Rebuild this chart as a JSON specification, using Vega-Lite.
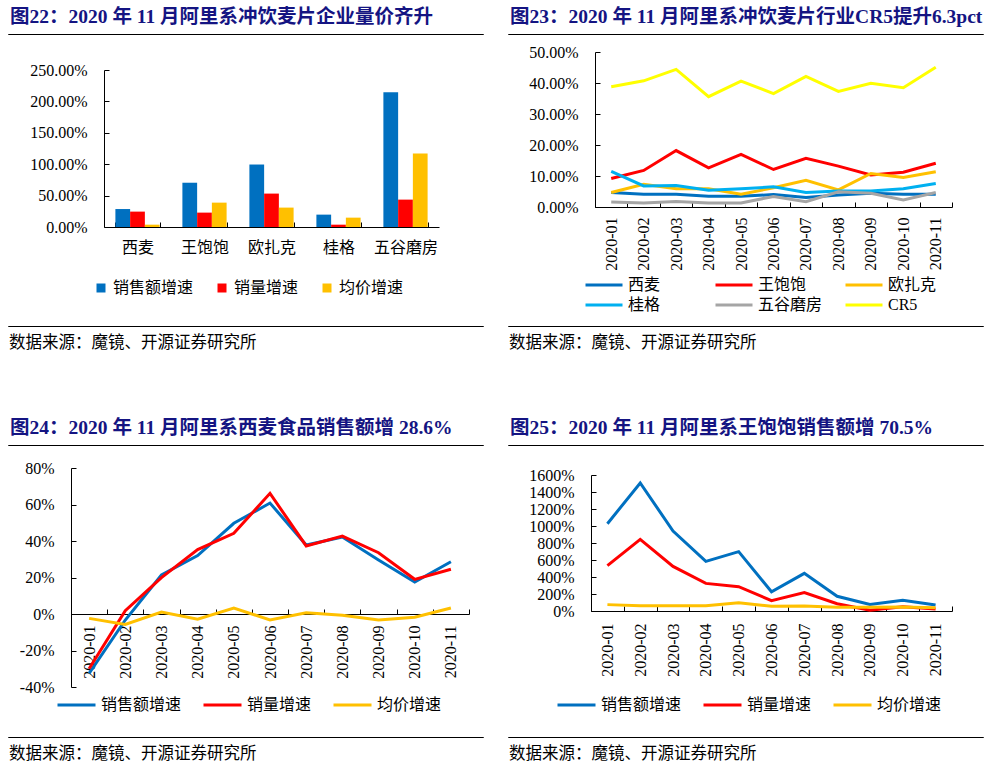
{
  "$schema": "https://vega.github.io/schema/vega-lite/v6.json",
  "description": "阿里系冲饮麦片 2020 年 11 月数据四图",
  "background": "white",
  "padding": {"left": 0, "top": 6, "right": 0, "bottom": 0},
  "config": {
    "font": "'Liberation Serif', 'Noto Sans CJK SC'",
    "view": {"stroke": null},
    "locale": {"number": {"decimal": ".", "thousands": ",", "grouping": [3], "currency": ["", ""], "minus": "-"}},
    "axis": {
      "grid": false,
      "domainColor": "#000000",
      "tickColor": "#000000",
      "tickSize": -5,
      "labelColor": "#000000",
      "labelFont": "'Liberation Serif', 'Noto Sans CJK SC'",
      "labelFontSize": 16
    },
    "legend": {
      "labelFont": "'Liberation Serif', 'Noto Sans CJK SC'",
      "labelFontSize": 16,
      "labelColor": "#000000",
      "labelOffset": 4,
      "padding": 0
    },
    "title": {
      "font": "'Liberation Serif', 'Noto Sans CJK SC'",
      "anchor": "start",
      "baseline": "alphabetic"
    }
  },
  "datasets": {
    "bars": [
      {"brand": "西麦", "metric": "销售额增速", "value": 0.286},
      {"brand": "西麦", "metric": "销量增速", "value": 0.245},
      {"brand": "西麦", "metric": "均价增速", "value": 0.037},
      {"brand": "王饱饱", "metric": "销售额增速", "value": 0.705},
      {"brand": "王饱饱", "metric": "销量增速", "value": 0.229},
      {"brand": "王饱饱", "metric": "均价增速", "value": 0.388},
      {"brand": "欧扎克", "metric": "销售额增速", "value": 0.995},
      {"brand": "欧扎克", "metric": "销量增速", "value": 0.532},
      {"brand": "欧扎克", "metric": "均价增速", "value": 0.309},
      {"brand": "桂格", "metric": "销售额增速", "value": 0.197},
      {"brand": "桂格", "metric": "销量增速", "value": 0.037},
      {"brand": "桂格", "metric": "均价增速", "value": 0.149},
      {"brand": "五谷磨房", "metric": "销售额增速", "value": 2.144},
      {"brand": "五谷磨房", "metric": "销量增速", "value": 0.436},
      {"brand": "五谷磨房", "metric": "均价增速", "value": 1.17}
    ],
    "share": [
      {"month": "2020-01", "brand": "西麦", "share": 0.047},
      {"month": "2020-02", "brand": "西麦", "share": 0.041},
      {"month": "2020-03", "brand": "西麦", "share": 0.041},
      {"month": "2020-04", "brand": "西麦", "share": 0.035},
      {"month": "2020-05", "brand": "西麦", "share": 0.035},
      {"month": "2020-06", "brand": "西麦", "share": 0.040},
      {"month": "2020-07", "brand": "西麦", "share": 0.031},
      {"month": "2020-08", "brand": "西麦", "share": 0.039},
      {"month": "2020-09", "brand": "西麦", "share": 0.044},
      {"month": "2020-10", "brand": "西麦", "share": 0.041},
      {"month": "2020-11", "brand": "西麦", "share": 0.041},
      {"month": "2020-01", "brand": "王饱饱", "share": 0.092},
      {"month": "2020-02", "brand": "王饱饱", "share": 0.118},
      {"month": "2020-03", "brand": "王饱饱", "share": 0.182},
      {"month": "2020-04", "brand": "王饱饱", "share": 0.126},
      {"month": "2020-05", "brand": "王饱饱", "share": 0.170},
      {"month": "2020-06", "brand": "王饱饱", "share": 0.121},
      {"month": "2020-07", "brand": "王饱饱", "share": 0.157},
      {"month": "2020-08", "brand": "王饱饱", "share": 0.132},
      {"month": "2020-09", "brand": "王饱饱", "share": 0.103},
      {"month": "2020-10", "brand": "王饱饱", "share": 0.112},
      {"month": "2020-11", "brand": "王饱饱", "share": 0.141},
      {"month": "2020-01", "brand": "欧扎克", "share": 0.047},
      {"month": "2020-02", "brand": "欧扎克", "share": 0.073},
      {"month": "2020-03", "brand": "欧扎克", "share": 0.059},
      {"month": "2020-04", "brand": "欧扎克", "share": 0.059},
      {"month": "2020-05", "brand": "欧扎克", "share": 0.041},
      {"month": "2020-06", "brand": "欧扎克", "share": 0.062},
      {"month": "2020-07", "brand": "欧扎克", "share": 0.086},
      {"month": "2020-08", "brand": "欧扎克", "share": 0.055},
      {"month": "2020-09", "brand": "欧扎克", "share": 0.108},
      {"month": "2020-10", "brand": "欧扎克", "share": 0.095},
      {"month": "2020-11", "brand": "欧扎克", "share": 0.114},
      {"month": "2020-01", "brand": "桂格", "share": 0.115},
      {"month": "2020-02", "brand": "桂格", "share": 0.068},
      {"month": "2020-03", "brand": "桂格", "share": 0.069},
      {"month": "2020-04", "brand": "桂格", "share": 0.054},
      {"month": "2020-05", "brand": "桂格", "share": 0.059},
      {"month": "2020-06", "brand": "桂格", "share": 0.065},
      {"month": "2020-07", "brand": "桂格", "share": 0.047},
      {"month": "2020-08", "brand": "桂格", "share": 0.052},
      {"month": "2020-09", "brand": "桂格", "share": 0.052},
      {"month": "2020-10", "brand": "桂格", "share": 0.059},
      {"month": "2020-11", "brand": "桂格", "share": 0.076},
      {"month": "2020-01", "brand": "五谷磨房", "share": 0.016},
      {"month": "2020-02", "brand": "五谷磨房", "share": 0.013},
      {"month": "2020-03", "brand": "五谷磨房", "share": 0.018},
      {"month": "2020-04", "brand": "五谷磨房", "share": 0.013},
      {"month": "2020-05", "brand": "五谷磨房", "share": 0.013},
      {"month": "2020-06", "brand": "五谷磨房", "share": 0.034},
      {"month": "2020-07", "brand": "五谷磨房", "share": 0.017},
      {"month": "2020-08", "brand": "五谷磨房", "share": 0.049},
      {"month": "2020-09", "brand": "五谷磨房", "share": 0.044},
      {"month": "2020-10", "brand": "五谷磨房", "share": 0.023},
      {"month": "2020-11", "brand": "五谷磨房", "share": 0.047},
      {"month": "2020-01", "brand": "CR5", "share": 0.388},
      {"month": "2020-02", "brand": "CR5", "share": 0.407},
      {"month": "2020-03", "brand": "CR5", "share": 0.444},
      {"month": "2020-04", "brand": "CR5", "share": 0.356},
      {"month": "2020-05", "brand": "CR5", "share": 0.406},
      {"month": "2020-06", "brand": "CR5", "share": 0.366},
      {"month": "2020-07", "brand": "CR5", "share": 0.421},
      {"month": "2020-08", "brand": "CR5", "share": 0.373},
      {"month": "2020-09", "brand": "CR5", "share": 0.399},
      {"month": "2020-10", "brand": "CR5", "share": 0.385},
      {"month": "2020-11", "brand": "CR5", "share": 0.451}
    ],
    "ximai": [
      {"month": "2020-01", "metric": "销售额增速", "value": -0.325},
      {"month": "2020-02", "metric": "销售额增速", "value": -0.033},
      {"month": "2020-03", "metric": "销售额增速", "value": 0.214},
      {"month": "2020-04", "metric": "销售额增速", "value": 0.32},
      {"month": "2020-05", "metric": "销售额增速", "value": 0.497},
      {"month": "2020-06", "metric": "销售额增速", "value": 0.608},
      {"month": "2020-07", "metric": "销售额增速", "value": 0.378},
      {"month": "2020-08", "metric": "销售额增速", "value": 0.422},
      {"month": "2020-09", "metric": "销售额增速", "value": 0.296},
      {"month": "2020-10", "metric": "销售额增速", "value": 0.175},
      {"month": "2020-11", "metric": "销售额增速", "value": 0.286},
      {"month": "2020-01", "metric": "销量增速", "value": -0.30},
      {"month": "2020-02", "metric": "销量增速", "value": 0.018},
      {"month": "2020-03", "metric": "销量增速", "value": 0.199},
      {"month": "2020-04", "metric": "销量增速", "value": 0.353},
      {"month": "2020-05", "metric": "销量增速", "value": 0.442},
      {"month": "2020-06", "metric": "销量增速", "value": 0.661},
      {"month": "2020-07", "metric": "销量增速", "value": 0.373},
      {"month": "2020-08", "metric": "销量增速", "value": 0.427},
      {"month": "2020-09", "metric": "销量增速", "value": 0.336},
      {"month": "2020-10", "metric": "销量增速", "value": 0.19},
      {"month": "2020-11", "metric": "销量增速", "value": 0.245},
      {"month": "2020-01", "metric": "均价增速", "value": -0.024},
      {"month": "2020-02", "metric": "均价增速", "value": -0.057},
      {"month": "2020-03", "metric": "均价增速", "value": 0.011},
      {"month": "2020-04", "metric": "均价增速", "value": -0.029},
      {"month": "2020-05", "metric": "均价增速", "value": 0.033},
      {"month": "2020-06", "metric": "均价增速", "value": -0.033},
      {"month": "2020-07", "metric": "均价增速", "value": 0.007},
      {"month": "2020-08", "metric": "均价增速", "value": -0.007},
      {"month": "2020-09", "metric": "均价增速", "value": -0.033},
      {"month": "2020-10", "metric": "均价增速", "value": -0.018},
      {"month": "2020-11", "metric": "均价增速", "value": 0.033}
    ],
    "wangbaobao": [
      {"month": "2020-01", "metric": "销售额增速", "value": 10.27},
      {"month": "2020-02", "metric": "销售额增速", "value": 15.06},
      {"month": "2020-03", "metric": "销售额增速", "value": 9.41},
      {"month": "2020-04", "metric": "销售额增速", "value": 5.84},
      {"month": "2020-05", "metric": "销售额增速", "value": 6.98},
      {"month": "2020-06", "metric": "销售额增速", "value": 2.27},
      {"month": "2020-07", "metric": "销售额增速", "value": 4.43},
      {"month": "2020-08", "metric": "销售额增速", "value": 1.73},
      {"month": "2020-09", "metric": "销售额增速", "value": 0.78},
      {"month": "2020-10", "metric": "销售额增速", "value": 1.25},
      {"month": "2020-11", "metric": "销售额增速", "value": 0.705},
      {"month": "2020-01", "metric": "销量增速", "value": 5.33},
      {"month": "2020-02", "metric": "销量增速", "value": 8.43},
      {"month": "2020-03", "metric": "销量增速", "value": 5.25},
      {"month": "2020-04", "metric": "销量增速", "value": 3.25},
      {"month": "2020-05", "metric": "销量增速", "value": 2.86},
      {"month": "2020-06", "metric": "销量增速", "value": 1.22},
      {"month": "2020-07", "metric": "销量增速", "value": 2.16},
      {"month": "2020-08", "metric": "销量增速", "value": 0.86},
      {"month": "2020-09", "metric": "销量增速", "value": 0.08},
      {"month": "2020-10", "metric": "销量增速", "value": 0.51},
      {"month": "2020-11", "metric": "销量增速", "value": 0.229},
      {"month": "2020-01", "metric": "均价增速", "value": 0.75},
      {"month": "2020-02", "metric": "均价增速", "value": 0.63},
      {"month": "2020-03", "metric": "均价增速", "value": 0.63},
      {"month": "2020-04", "metric": "均价增速", "value": 0.63},
      {"month": "2020-05", "metric": "均价增速", "value": 0.98},
      {"month": "2020-06", "metric": "均价增速", "value": 0.55},
      {"month": "2020-07", "metric": "均价增速", "value": 0.59},
      {"month": "2020-08", "metric": "均价增速", "value": 0.43},
      {"month": "2020-09", "metric": "均价增速", "value": 0.43},
      {"month": "2020-10", "metric": "均价增速", "value": 0.47},
      {"month": "2020-11", "metric": "均价增速", "value": 0.388}
    ]
  },
  "spacing": 64,
  "resolve": {"scale": {"color": "independent"}, "legend": {"color": "independent"}},
  "vconcat": [
    {
      "spacing": 12,
      "resolve": {"scale": {"color": "independent"}, "legend": {"color": "independent"}},
      "vconcat": [
        {
          "spacing": 16,
          "resolve": {"scale": {"color": "independent"}, "legend": {"color": "independent"}},
          "hconcat": [
            {
              "spacing": 27,
              "vconcat": [
                {
                  "width": 475,
                  "height": 0.01,
                  "view": {"stroke": "#000000", "strokeWidth": 1},
                  "title": {"text": "图22：2020 年 11 月阿里系冲饮麦片企业量价齐升", "fontSize": 19.5, "fontWeight": "bold", "color": "#141482", "offset": 7, "dx": 2},
                  "data": {"values": []},
                  "mark": "text",
                  "encoding": {}
                },
                {
                  "width": 475,
                  "height": 157,
                  "data": {"name": "bars"},
                  "mark": {"type": "bar"},
                  "encoding": {
                    "x": {
                      "field": "brand",
                      "type": "nominal",
                      "sort": ["西麦", "王饱饱", "欧扎克", "桂格", "五谷磨房"],
                      "scale": {"range": [96, 431], "paddingInner": 0.34, "paddingOuter": 0.17},
                      "axis": {"title": null, "labelAngle": 0, "tickBand": "extent", "labelPadding": 17}
                    },
                    "xOffset": {
                      "field": "metric",
                      "type": "nominal",
                      "sort": ["销售额增速", "销量增速", "均价增速"],
                      "scale": {"paddingInner": 0, "paddingOuter": 0}
                    },
                    "y": {
                      "field": "value",
                      "type": "quantitative",
                      "scale": {"domain": [0, 2.5]},
                      "axis": {"title": null, "values": [0, 0.5, 1, 1.5, 2, 2.5], "format": ".2%", "offset": -96, "labelPadding": 22}
                    },
                    "color": {
                      "field": "metric",
                      "type": "nominal",
                      "scale": {"domain": ["销售额增速", "销量增速", "均价增速"], "range": ["#0070C0", "#FF0000", "#FFC000"]},
                      "legend": {"title": null, "orient": "none", "direction": "horizontal", "columns": 3, "legendX": 85, "legendY": 246, "symbolType": "square", "symbolSize": 81, "symbolStrokeWidth": 0, "columnPadding": 20}
                    }
                  }
                }
              ]
            },
            {
              "spacing": 9,
              "vconcat": [
                {
                  "width": 475,
                  "height": 0.01,
                  "view": {"stroke": "#000000", "strokeWidth": 1},
                  "title": {"text": "图23：2020 年 11 月阿里系冲饮麦片行业CR5提升6.3pct", "fontSize": 19.5, "fontWeight": "bold", "color": "#141482", "offset": 7, "dx": 2},
                  "data": {"values": []},
                  "mark": "text",
                  "encoding": {}
                },
                {
                  "width": 475,
                  "height": 155,
                  "data": {"name": "share"},
                  "mark": {"type": "line", "strokeWidth": 3},
                  "encoding": {
                    "x": {
                      "field": "month",
                      "type": "ordinal",
                      "bandPosition": 0.5,
                      "scale": {"type": "band", "range": [87, 444], "paddingInner": 0, "paddingOuter": 0},
                      "axis": {"title": null, "labelAngle": 270, "tickBand": "extent", "labelPadding": 15}
                    },
                    "y": {
                      "field": "share",
                      "type": "quantitative",
                      "scale": {"domain": [0, 0.5]},
                      "axis": {"title": null, "values": [0, 0.1, 0.2, 0.3, 0.4, 0.5], "format": ".2%", "offset": -87, "labelPadding": 22}
                    },
                    "color": {
                      "field": "brand",
                      "type": "nominal",
                      "scale": {"domain": ["西麦", "王饱饱", "欧扎克", "桂格", "五谷磨房", "CR5"], "range": ["#0070C0", "#FF0000", "#FFC000", "#00B0F0", "#A5A5A5", "#FFFF00"]},
                      "legend": {"title": null, "orient": "none", "direction": "horizontal", "columns": 3, "legendX": 76, "legendY": 243, "symbolType": "stroke", "symbolSize": 1369, "symbolStrokeWidth": 3, "clipHeight": 16, "gridAlign": "all", "columnPadding": 21, "rowPadding": 4}
                    }
                  }
                }
              ]
            }
          ]
        },
        {
          "spacing": 23,
          "hconcat": [
            {
              "width": 475,
              "height": 0.01,
              "view": {"stroke": "#000000", "strokeWidth": 1},
              "title": {"text": "数据来源：魔镜、开源证券研究所", "orient": "bottom", "fontSize": 16.5, "fontWeight": "normal", "color": "#000000", "offset": 9, "dx": 1},
              "data": {"values": []},
              "mark": "text",
              "encoding": {}
            },
            {
              "width": 475,
              "height": 0.01,
              "view": {"stroke": "#000000", "strokeWidth": 1},
              "title": {"text": "数据来源：魔镜、开源证券研究所", "orient": "bottom", "fontSize": 16.5, "fontWeight": "normal", "color": "#000000", "offset": 9, "dx": 1},
              "data": {"values": []},
              "mark": "text",
              "encoding": {}
            }
          ]
        }
      ]
    },
    {
      "spacing": 23,
      "resolve": {"scale": {"color": "independent"}, "legend": {"color": "independent"}},
      "vconcat": [
        {
          "spacing": 16,
          "resolve": {"scale": {"color": "independent"}, "legend": {"color": "independent"}},
          "hconcat": [
            {
              "spacing": 14,
              "vconcat": [
                {
                  "width": 475,
                  "height": 0.01,
                  "view": {"stroke": "#000000", "strokeWidth": 1},
                  "title": {"text": "图24：2020 年 11 月阿里系西麦食品销售额增 28.6%", "fontSize": 19.5, "fontWeight": "bold", "color": "#141482", "offset": 7, "dx": 2},
                  "data": {"values": []},
                  "mark": "text",
                  "encoding": {}
                },
                {
                  "width": 475,
                  "height": 219,
                  "data": {"name": "ximai"},
                  "mark": {"type": "line", "strokeWidth": 3},
                  "encoding": {
                    "x": {
                      "field": "month",
                      "type": "ordinal",
                      "bandPosition": 0.5,
                      "scale": {"type": "band", "range": [63, 461], "paddingInner": 0, "paddingOuter": 0},
                      "axis": {"title": null, "labelAngle": 270, "tickBand": "extent", "labelPadding": 16, "offset": -73}
                    },
                    "y": {
                      "field": "value",
                      "type": "quantitative",
                      "scale": {"domain": [-0.4, 0.8]},
                      "axis": {"title": null, "values": [-0.4, -0.2, 0, 0.2, 0.4, 0.6, 0.8], "format": ".0%", "offset": -63, "labelPadding": 22}
                    },
                    "color": {
                      "field": "metric",
                      "type": "nominal",
                      "scale": {"domain": ["销售额增速", "销量增速", "均价增速"], "range": ["#0070C0", "#FF0000", "#FFC000"]},
                      "legend": {"title": null, "orient": "none", "direction": "horizontal", "columns": 3, "legendX": 48, "legendY": 252, "symbolType": "stroke", "symbolSize": 1444, "symbolStrokeWidth": 3, "clipHeight": 16, "columnPadding": 20}
                    }
                  }
                }
              ]
            },
            {
              "spacing": 21,
              "vconcat": [
                {
                  "width": 475,
                  "height": 0.01,
                  "view": {"stroke": "#000000", "strokeWidth": 1},
                  "title": {"text": "图25：2020 年 11 月阿里系王饱饱销售额增 70.5%", "fontSize": 19.5, "fontWeight": "bold", "color": "#141482", "offset": 7, "dx": 2},
                  "data": {"values": []},
                  "mark": "text",
                  "encoding": {}
                },
                {
                  "width": 475,
                  "height": 136,
                  "data": {"name": "wangbaobao"},
                  "mark": {"type": "line", "strokeWidth": 3},
                  "encoding": {
                    "x": {
                      "field": "month",
                      "type": "ordinal",
                      "bandPosition": 0.5,
                      "scale": {"type": "band", "range": [83, 444], "paddingInner": 0, "paddingOuter": 0},
                      "axis": {"title": null, "labelAngle": 270, "tickBand": "extent", "labelPadding": 17}
                    },
                    "y": {
                      "field": "value",
                      "type": "quantitative",
                      "scale": {"domain": [0, 16]},
                      "axis": {"title": null, "values": [0, 2, 4, 6, 8, 10, 12, 14, 16], "format": ".0%", "offset": -83, "labelPadding": 22}
                    },
                    "color": {
                      "field": "metric",
                      "type": "nominal",
                      "scale": {"domain": ["销售额增速", "销量增速", "均价增速"], "range": ["#0070C0", "#FF0000", "#FFC000"]},
                      "legend": {"title": null, "orient": "none", "direction": "horizontal", "columns": 3, "legendX": 48, "legendY": 252, "symbolType": "stroke", "symbolSize": 1444, "symbolStrokeWidth": 3, "clipHeight": 16, "columnPadding": 20}
                    }
                  }
                }
              ]
            }
          ]
        },
        {
          "spacing": 23,
          "hconcat": [
            {
              "width": 475,
              "height": 0.01,
              "view": {"stroke": "#000000", "strokeWidth": 1},
              "title": {"text": "数据来源：魔镜、开源证券研究所", "orient": "bottom", "fontSize": 16.5, "fontWeight": "normal", "color": "#000000", "offset": 9, "dx": 1},
              "data": {"values": []},
              "mark": "text",
              "encoding": {}
            },
            {
              "width": 475,
              "height": 0.01,
              "view": {"stroke": "#000000", "strokeWidth": 1},
              "title": {"text": "数据来源：魔镜、开源证券研究所", "orient": "bottom", "fontSize": 16.5, "fontWeight": "normal", "color": "#000000", "offset": 9, "dx": 1},
              "data": {"values": []},
              "mark": "text",
              "encoding": {}
            }
          ]
        }
      ]
    }
  ]
}
